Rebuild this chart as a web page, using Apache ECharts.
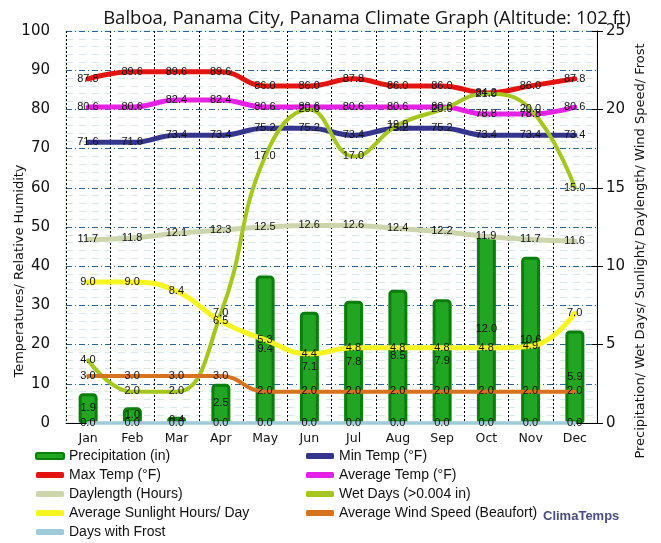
<!DOCTYPE html>
<html>
<head>
<meta charset="utf-8">
<script src="https://cdn.jsdelivr.net/npm/echarts@6/dist/echarts.min.js"></script>
<style>html,body{margin:0;padding:0;background:#fff;}#c{width:661px;height:543px;}</style>
</head>
<body>
<div id="c"></div>
<script>
const months = ['Jan','Feb','Mar','Apr','May','Jun','Jul','Aug','Sep','Oct','Nov','Dec'];
const precipitation = [1.9, 1.0, 0.4, 2.5, 9.4, 7.1, 7.8, 8.5, 7.9, 12.0, 10.6, 5.9];
const maxTemp = [87.8, 89.6, 89.6, 89.6, 86.0, 86.0, 87.8, 86.0, 86.0, 84.2, 86.0, 87.8];
const avgTemp = [80.6, 80.6, 82.4, 82.4, 80.6, 80.6, 80.6, 80.6, 80.6, 78.8, 78.8, 80.6];
const minTemp = [71.6, 71.6, 73.4, 73.4, 75.2, 75.2, 73.4, 75.2, 75.2, 73.4, 73.4, 73.4];
const daylength = [11.7, 11.8, 12.1, 12.3, 12.5, 12.6, 12.6, 12.4, 12.2, 11.9, 11.7, 11.6];
const wetDays = [4.0, 2.0, 2.0, 7.0, 17.0, 20.0, 17.0, 19.0, 20.0, 21.0, 20.0, 15.0];
const sunlight = [9.0, 9.0, 8.4, 6.5, 5.3, 4.4, 4.8, 4.8, 4.8, 4.8, 4.9, 7.0];
const windSpeed = [3.0, 3.0, 3.0, 3.0, 2.0, 2.0, 2.0, 2.0, 2.0, 2.0, 2.0, 2.0];
const frostDays = [0.0, 0.0, 0.0, 0.0, 0.0, 0.0, 0.0, 0.0, 0.0, 0.0, 0.0, 0.0];
const leftTicks = {min: 0, max: 100, interval: 10};
const rightTicks = {min: 0, max: 25, interval: 5};

const lblFont = {color: '#111', fontSize: 11, fontFamily: 'Liberation Sans, Arial, sans-serif'};
const fmt = p => Number(p.value).toFixed(1);

function lineSeries(name, data, color, width, yIdx, z) {
  return {
    name, type: 'line', data, yAxisIndex: yIdx, smooth: 0.45,
    symbol: 'circle', symbolSize: 0.5, showSymbol: true, showAllSymbol: true,
    clip: false,
    lineStyle: {color, width, cap: 'round'},
    itemStyle: {color},
    label: Object.assign({show: true, position: [0, 0], align: 'center', verticalAlign: 'middle', formatter: fmt}, lblFont),
    labelLayout: {hideOverlap: false},
    emphasis: {disabled: true},
    z: z || 3
  };
}

const chart = echarts.init(document.getElementById('c'), null, {renderer: 'canvas'});
chart.setOption({
  animation: false,
  backgroundColor: '#fff',
  title: {
    text: 'Balboa, Panama City, Panama Climate Graph (Altitude: 102 ft)',
    left: 362, top: 4, textAlign: 'center',
    textStyle: {fontFamily: 'Open Sans, sans-serif', fontSize: 18.5, fontWeight: 'normal', color: '#111'}
  },
  grid: {left: 66, right: 64, top: 31, bottom: 120, show: true, borderColor: '#cfe8cf', borderWidth: 1, backgroundColor: 'transparent'},
  legend: [
    {
      orient: 'vertical', left: 35, top: 449, padding: 0, itemWidth: 28, itemHeight: 6, itemGap: 5,
      icon: 'roundRect',
      textStyle: {fontFamily: 'Liberation Sans, Arial, sans-serif', fontSize: 14, color: '#111', lineHeight: 14},
      data: ['Precipitation (in)', 'Max Temp (°F)', 'Daylength (Hours)', 'Average Sunlight Hours/ Day', 'Days with Frost']
    },
    {
      orient: 'vertical', left: 306, top: 449, padding: 0, itemWidth: 28, itemHeight: 6, itemGap: 5,
      icon: 'roundRect',
      textStyle: {fontFamily: 'Liberation Sans, Arial, sans-serif', fontSize: 14, color: '#111', lineHeight: 14},
      data: ['Min Temp (°F)', 'Average Temp (°F)', 'Wet Days (>0.004 in)', 'Average Wind Speed (Beaufort)']
    }
  ],
  graphic: [
    {
      type: 'text', left: 543, top: 510,
      style: {text: 'ClimaTemps', fill: '#4b4b7d', font: 'bold 13px "Liberation Sans", Arial, sans-serif'}
    },
    {
      type: 'text', x: 20, y: 271, rotation: Math.PI / 2,
      style: {text: 'Temperatures/ Relative Humidity', fill: '#111', font: '13px "DejaVu Sans", Verdana, sans-serif', align: 'center', verticalAlign: 'middle'}
    },
    {
      type: 'text', x: 641, y: 251, rotation: Math.PI / 2,
      style: {text: 'Precipitation/ Wet Days/ Sunlight/ Daylength/ Wind Speed/ Frost', fill: '#111', font: '13px "DejaVu Sans", Verdana, sans-serif', align: 'center', verticalAlign: 'middle'}
    }
  ],
  xAxis: {
    type: 'category', data: months, boundaryGap: true,
    axisLine: {show: true, lineStyle: {color: '#000', width: 1}},
    axisTick: {show: false},
    axisLabel: {color: '#111', fontSize: 12.5, fontFamily: 'DejaVu Sans, Verdana, sans-serif', margin: 9},
    splitLine: {show: true, lineStyle: {color: '#000', type: [2, 2], width: 1}}
  },
  yAxis: [
    {
      type: 'value', min: leftTicks.min, max: leftTicks.max, interval: leftTicks.interval,
      axisLine: {show: false}, axisTick: {show: false},
      axisLabel: {color: '#111', fontSize: 15, fontFamily: 'DejaVu Sans, Verdana, sans-serif', margin: 16},
      splitLine: {show: true, lineStyle: {color: '#2a6496', type: [6, 3, 1, 3], width: 1}},
      minorTick: {show: false, splitNumber: 5},
      minorSplitLine: {show: true, lineStyle: {color: '#d6e8e8', type: [7, 6], width: 1}}
    },
    {
      type: 'value', min: rightTicks.min, max: rightTicks.max, interval: rightTicks.interval,
      position: 'right',
      axisLine: {show: true, lineStyle: {color: '#000', width: 1}},
      axisTick: {show: true, length: 6, lineStyle: {color: '#000'}},
      axisLabel: {color: '#111', fontSize: 15, fontFamily: 'DejaVu Sans, Verdana, sans-serif', margin: 9},
      splitLine: {show: false}
    },
    {
      type: 'value', min: rightTicks.min, max: rightTicks.max, interval: rightTicks.interval,
      position: 'right',
      axisLine: {show: false},
      axisTick: {show: true, inside: true, length: 5, lineStyle: {color: '#000'}},
      axisLabel: {show: false},
      splitLine: {show: false}
    }
  ],
  series: [
    {
      name: 'Precipitation (in)', type: 'bar', data: precipitation, yAxisIndex: 1,
      barWidth: 19,
      itemStyle: {color: '#22a522', borderColor: '#0b7d0b', borderWidth: 3, borderRadius: [3, 3, 1, 1]},
      label: Object.assign({show: true, position: 'inside', formatter: fmt}, lblFont),
      emphasis: {disabled: true},
      z: 2
    },
    lineSeries('Max Temp (°F)', maxTemp, '#e3140f', 5, 0),
    lineSeries('Min Temp (°F)', minTemp, '#35358e', 5, 0),
    lineSeries('Average Temp (°F)', avgTemp, '#e421e4', 5, 0),
    lineSeries('Daylength (Hours)', daylength, '#cdd5ad', 5, 1),
    lineSeries('Wet Days (>0.004 in)', wetDays, '#a4c61f', 4, 1),
    lineSeries('Average Sunlight Hours/ Day', sunlight, '#f7f520', 5, 1),
    lineSeries('Average Wind Speed (Beaufort)', windSpeed, '#d7721d', 4, 1),
    lineSeries('Days with Frost', frostDays, '#9fcbd8', 3.5, 1, 4)
  ]
});
</script>
</body>
</html>
